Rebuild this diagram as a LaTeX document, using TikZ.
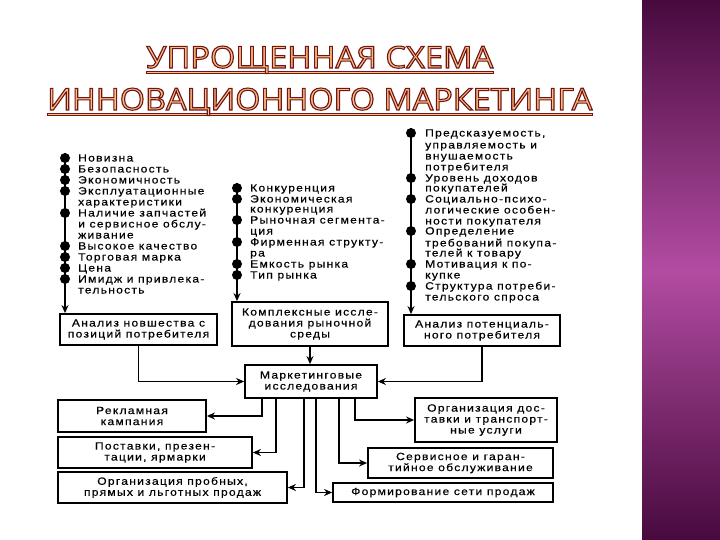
\documentclass[tikz,border=0pt]{standalone}
\usepackage{fontspec}
\newfontfamily\dfont[LetterSpace=12,FakeStretch=1.15,FakeBold=0.4]{Liberation Sans}
\newfontfamily\tfont{Open Sans}
\usetikzlibrary{arrows.meta,calc}
\definecolor{ttlred}{RGB}{115,20,25}
\definecolor{ttlorg}{RGB}{248,192,125}
\definecolor{bandtop}{RGB}{72,10,62}
\definecolor{bandmid}{RGB}{178,76,162}
\newcommand\outl{\special{pdf:literal direct 2 Tr 0.35 w 0.45 0.08 0.1 RG}}
\newcommand\ttlA{\resizebox{347pt}{22pt}{\outl\tfont УПРОЩЕННАЯ СХЕМА}}
\newcommand\ttlB{\resizebox{545pt}{22pt}{\outl\tfont ИННОВАЦИОННОГО МАРКЕТИНГА}}
\tikzset{
  box/.style={draw, line width=1.8pt, align=center, inner sep=0pt,
    font=\dfont\fontsize{10.5}{11}\selectfont},
  dot/.style={circle, fill, inner sep=0pt, minimum size=10pt},
  item/.style={anchor=base west, inner sep=0pt, font=\dfont\fontsize{10.5}{11}\selectfont},
  arr/.style={line width=1.6pt, -{Stealth[length=8pt,width=7pt]}},
  vline/.style={line width=2pt, -{Stealth[length=8pt,width=7pt]}},
  ttl/.style={anchor=base west, inner sep=0pt, text=ttlorg},
  uline/.style={fill=ttlorg, draw=ttlred, line width=0.7pt},
}
\begin{document}
\begin{tikzpicture}[x=1pt,y=-1pt]
\useasboundingbox (0,0) rectangle (720,540);
\fill[white] (0,0) rectangle (720,540);
% purple band
\shade[top color=bandtop, bottom color=bandtop, middle color=bandmid] (642,0) rectangle (720,540);
% title
\filldraw[uline] (146,71) rectangle (493,73.5);
\filldraw[uline] (47,113) rectangle (592,115.5);
\node[ttl] (ta) at (146,68) {\ttlA};
\node[ttl] (tb) at (47,110) {\ttlB};

% boxes
\node[box, minimum width=157pt, minimum height=31pt] (anl) at (138.5,329.5) {Анализ новшества с\\позиций потребителя};
\node[box, minimum width=156pt, minimum height=44pt] (cmp) at (310,324) {Комплексные иссле-\\дования рыночной\\среды};
\node[box, minimum width=156pt, minimum height=31pt] (apt) at (482,330.5) {Анализ потенциаль-\\ного потребителя};
\node[box, minimum width=132pt, minimum height=33pt] (mkt) at (311,381.5) {Маркетинговые\\исследования};
\node[box, minimum width=148pt, minimum height=32pt] (rek) at (132,416) {Рекламная\\кампания};
\node[box, minimum width=194pt, minimum height=31pt] (pst) at (155,452.5) {Поставки, презен-\\тации, ярмарки};
\node[box, minimum width=229pt, minimum height=31pt] (org) at (172.5,487.5) {Организация пробных,\\прямых и льготных продаж};
\node[box, minimum width=142pt, minimum height=44pt] (dst) at (486,420) {Организация дос-\\тавки и транспорт-\\ные услуги};
\node[box, minimum width=185pt, minimum height=30pt] (srv) at (460.5,463) {Сервисное и гаран-\\тийное обслуживание};
\node[box, minimum width=220pt, minimum height=19pt] (frm) at (443,492.5) {Формирование сети продаж};

% list lines
\coordinate (ltop) at (65,153);
\coordinate (mtop) at (237,183);
\coordinate (rtop) at (411,128);
\draw[vline] (ltop) -- (ltop |- anl.north);
\draw[vline] (mtop) -- (mtop |- cmp.north);
\draw[vline] (rtop) -- (rtop |- apt.north);

% left list
\foreach \y/\t [count=\i] in {158/Новизна, 169/Безопасность, 180/Экономичность,
  191/Эксплуатационные, 202/характеристики, 213/Наличие запчастей,
  224/и сервисное обслу-, 235/живание, 246/Высокое качество, 257/Торговая марка,
  268/Цена, 279/Имидж и привлека-, 290/тельность}
  \node[item] (l\i) at (78,\y+3.5) {\t};
\foreach \y [count=\i] in {158,169,180,191,213,246,257,268,279}
  \node[dot] (ld\i) at (65,\y) {};

% middle list
\foreach \y/\t [count=\i] in {188/Конкуренция, 199/Экономическая, 209/конкуренция,
  220/Рыночная сегмента-, 231/ция, 242/Фирменная структу-, 253/ра,
  264/Емкость рынка, 275/Тип рынка}
  \node[item] (m\i) at (250,\y+3.5) {\t};
\foreach \y [count=\i] in {188,199,220,242,264,275}
  \node[dot] (md\i) at (237,\y) {};

% right list
\foreach \y/\t [count=\i] in {133/{Предсказуемость,}, 145/управляемость и, 156/внушаемость,
  167/потребителя, 178/Уровень доходов, 188/покупателей, 199/Социально-психо-,
  210/логические особен-, 221/ности покупателя, 231/Определение,
  243/требований покупа-, 253/телей к товару, 264/Мотивация к по-, 275/купке,
  286/Структура потреби-, 297/тельского спроса}
  \node[item] (r\i) at (425,\y+3.5) {\t};
\foreach \y [count=\i] in {133,178,199,231,264,286}
  \node[dot] (rd\i) at (411,\y) {};

% connectors to marketing box
\draw[arr] (anl.south) |- (mkt.west);
\draw[arr] (apt.south) |- (mkt.east);
\draw[arr] (cmp.south) -- (cmp.south |- mkt.north);

% connectors from marketing box
\draw[arr] ([xshift=18pt]mkt.south west) |- (rek.east);
\draw[arr] ([xshift=32pt]mkt.south west) |- (pst.east);
\draw[arr] ([xshift=60pt]mkt.south west) |- (org.east);
\draw[arr] ([xshift=72pt]mkt.south west) |- (frm.west);
\draw[arr] ([xshift=95pt]mkt.south west) |- (srv.west);
\draw[arr] ([xshift=111pt]mkt.south west) |- (dst.west);
\end{tikzpicture}
\end{document}
